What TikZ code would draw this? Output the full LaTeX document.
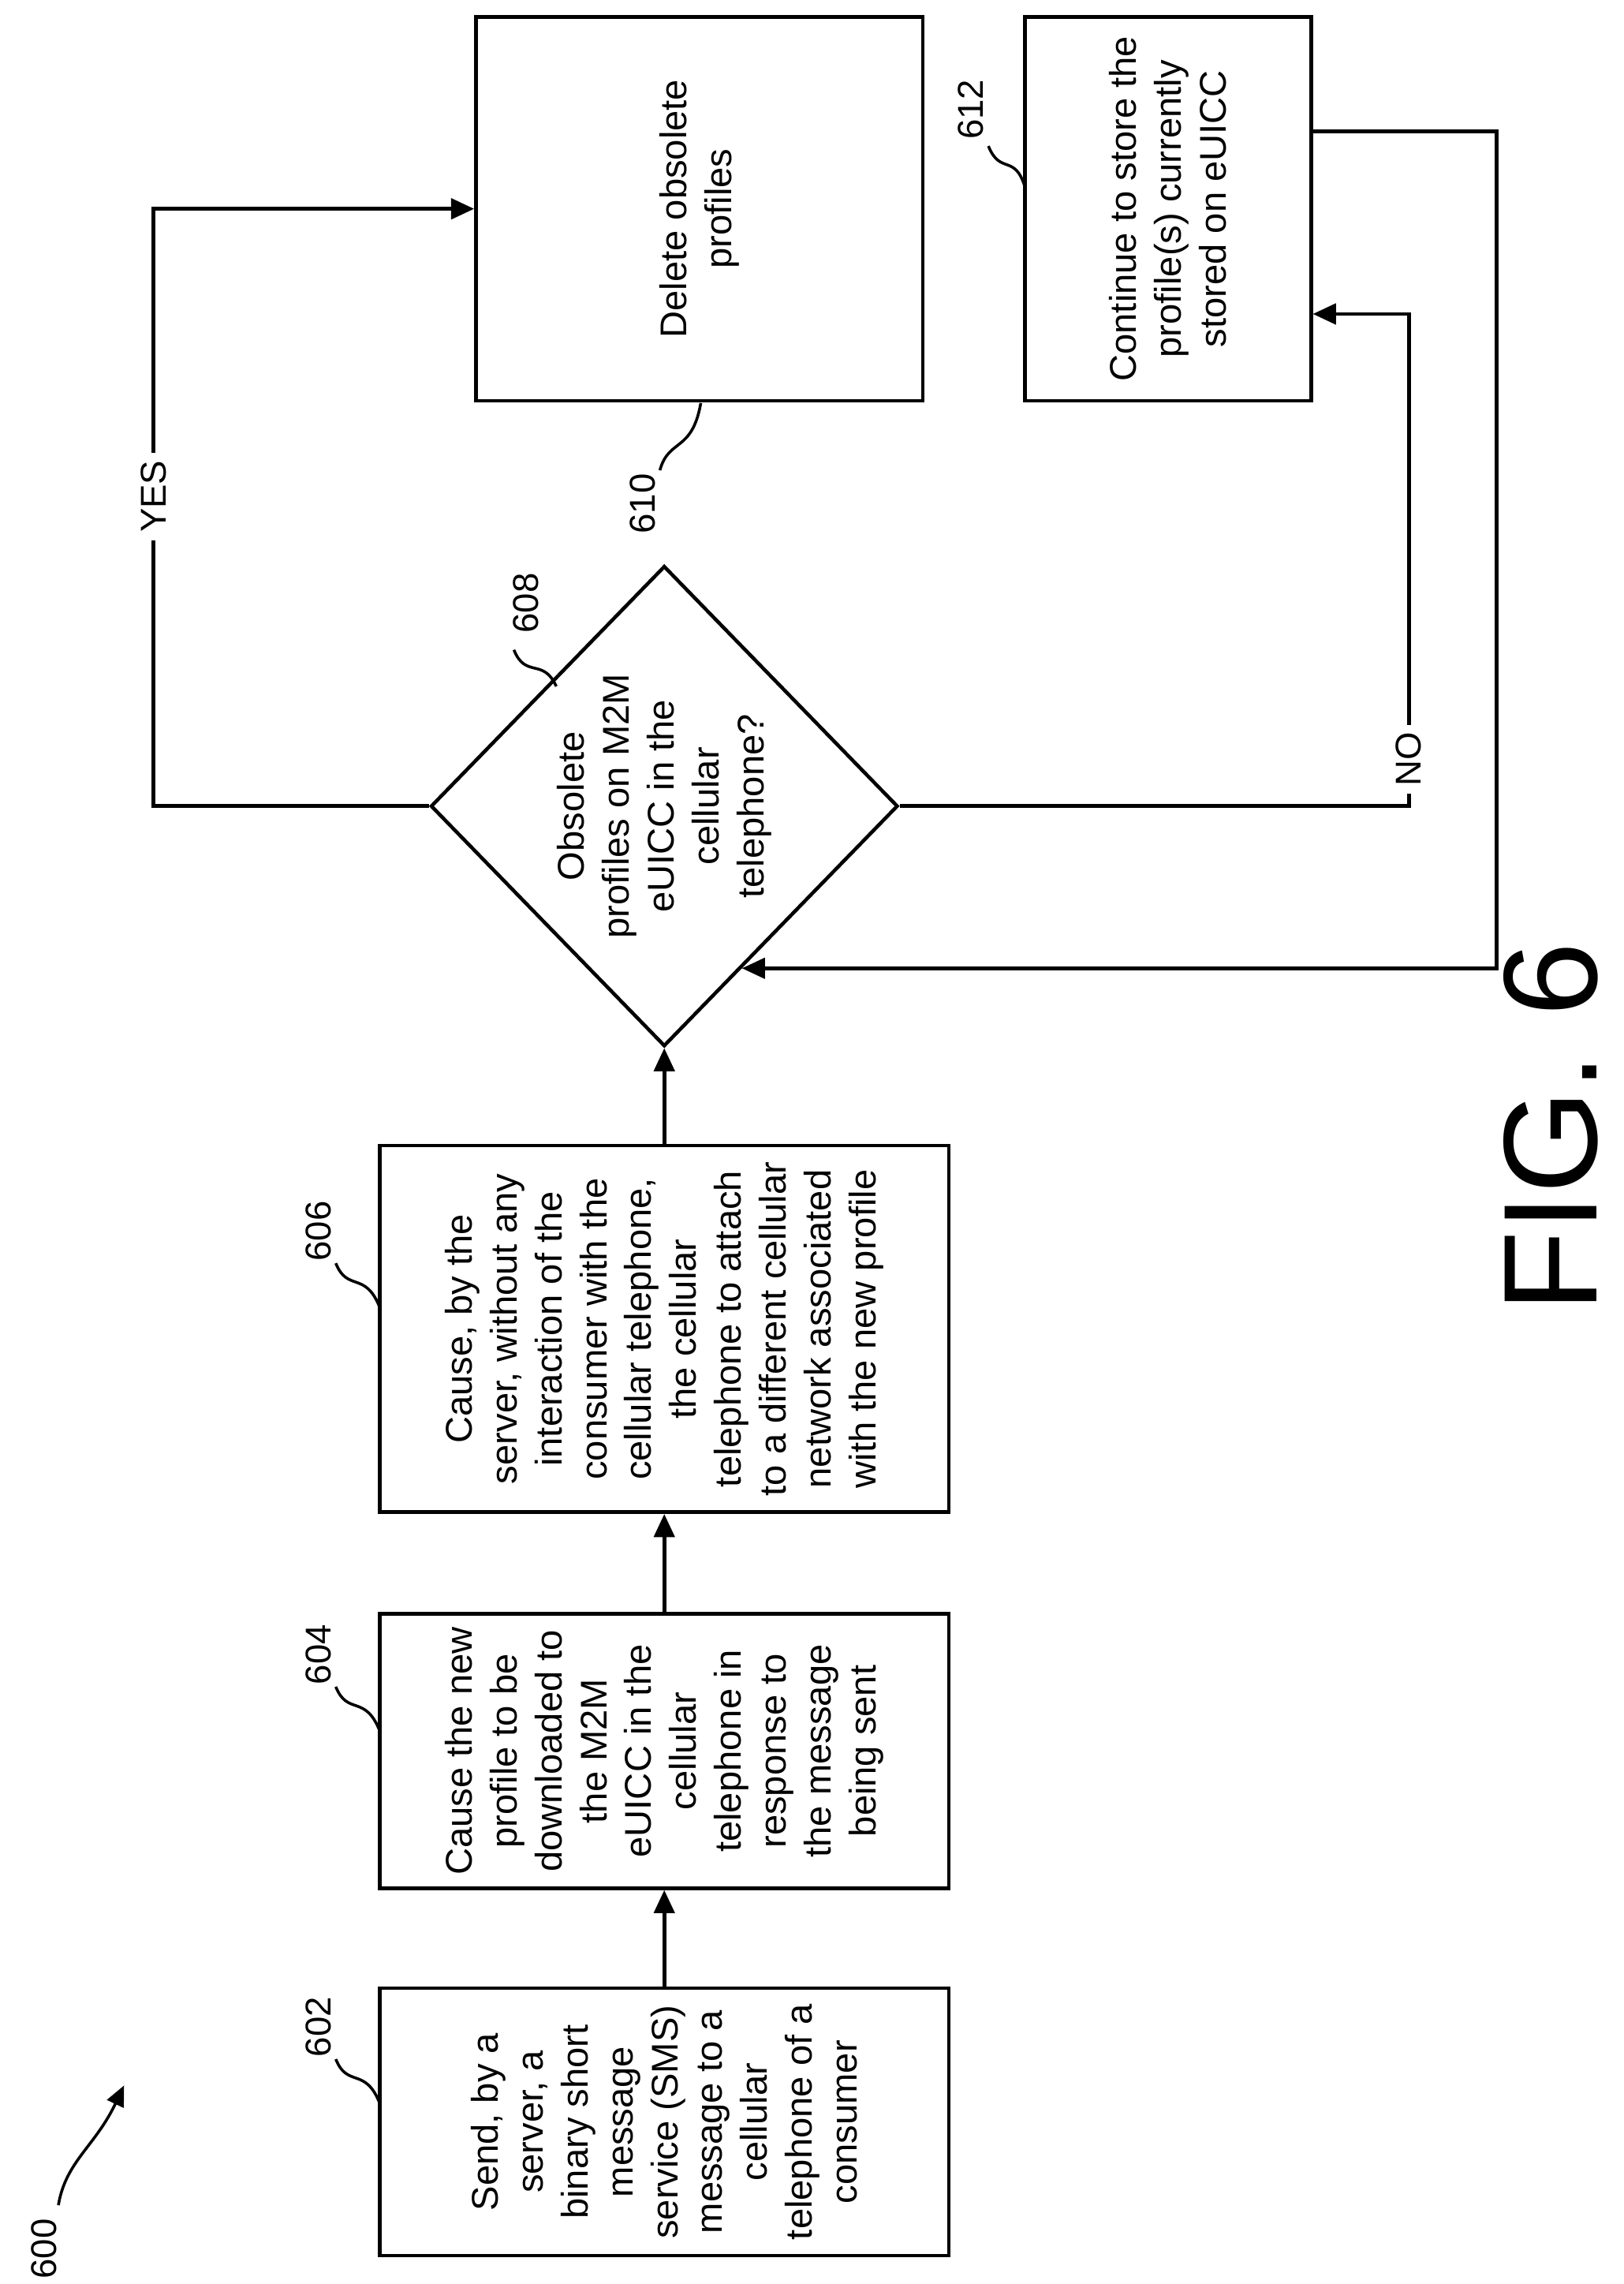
\documentclass[tikz,border=0pt]{standalone}
\usepackage{fontspec}
\setmainfont{Liberation Sans}
\usetikzlibrary{shapes.geometric, arrows.meta, positioning, calc}

\tikzset{
    box/.style={draw, line width=1.4pt, rotate=90, align=center, inner sep=2pt,
        font=\fontsize{14.5}{17.5}\selectfont},
    lbl/.style={rotate=90, font=\fontsize{14}{16}\selectfont},
    flow/.style={line width=1.4pt, -{Triangle[length=9pt,width=8pt]}},
    leader/.style={line width=1.1pt}
}

\begin{document}
\begin{tikzpicture}[x=0.02cm, y=-0.02cm]
    \useasboundingbox (0,0) rectangle (1112,1564);

    % process steps
    \node[box, minimum width=183*0.02cm, minimum height=390*0.02cm] (send) at (455,1453)
        {Send, by a\\server, a\\binary short\\message\\service (SMS)\\message to a\\cellular\\telephone of a\\consumer};
    \node[box, minimum width=188*0.02cm, minimum height=390*0.02cm] (download) at (455,1199)
        {Cause the new\\profile to be\\downloaded to\\the M2M\\eUICC in the\\cellular\\telephone in\\response to\\the message\\being sent};
    \node[box, minimum width=251*0.02cm, minimum height=390*0.02cm] (attach) at (455,910)
        {Cause, by the\\server, without any\\interaction of the\\consumer with the\\cellular telephone,\\the cellular\\telephone to attach\\to a different cellular\\network associated\\with the new profile};
    \node[box, diamond, inner sep=-8pt, minimum width=329*0.02cm, minimum height=320*0.02cm] (check) at (455,552)
        {Obsolete\\profiles on M2M\\eUICC in the\\cellular\\telephone?};
    \node[box, minimum width=263*0.02cm, minimum height=306*0.02cm] (delete) at (479,143)
        {Delete obsolete\\profiles};
    \node[box, minimum width=263*0.02cm, minimum height=196*0.02cm] (keep) at (800,143)
        {Continue to store the\\profile(s) currently\\stored on eUICC};

    % connectors
    \draw[flow] (send) -- (download);
    \draw[flow] (download) -- (attach);
    \draw[flow] (attach) -- (check);
    \draw[flow] (check.north) -| (105,300) |- (delete.north);
    \node[lbl, fill=white, inner sep=3pt] (yes) at (105,340) {YES};
    \draw[flow] (check.south) -| (965,300) |- ([yshift=-72*0.02cm]keep.south);
    \node[lbl, fill=white, inner sep=3pt] (no) at (965,520) {NO};
    \coordinate (back) at ($(check.south)!0.67!(check.west)$);
    \draw[flow] ([yshift=53*0.02cm]keep.south) -| (1025,400) |- (back);

    % reference numerals
    \node[lbl] (n602) at (218,1388) {602};
    \draw[leader] (230,1410) .. controls (238,1430) and (250,1415) .. (260,1440);
    \node[lbl] (n604) at (218,1133) {604};
    \draw[leader] (230,1155) .. controls (238,1175) and (250,1160) .. (260,1185);
    \node[lbl] (n606) at (218,843) {606};
    \draw[leader] (230,865) .. controls (238,885) and (250,870) .. (260,895);
    \node[lbl] (n608) at (360,413) {608};
    \draw[leader] (352,445) .. controls (360,465) and (372,450) .. (381,470);
    \node[lbl] (n610) at (440,345) {610};
    \draw[leader] (452,322) .. controls (458,300) and (474,310) .. (480,276);
    \node[lbl] (n612) at (665,75) {612};
    \draw[leader] (677,100) .. controls (685,120) and (695,105) .. (702,128);
    \node[lbl] (n600) at (30,1540) {600};
    \draw[leader, -{Triangle[length=8pt,width=7pt]}] (40,1510) .. controls (45,1480) and (65,1470) .. (85,1428);

    \node[rotate=90, font=\fontsize{52}{56}\selectfont] (fig) at (1062,772) {FIG. 6};
\end{tikzpicture}
\end{document}
